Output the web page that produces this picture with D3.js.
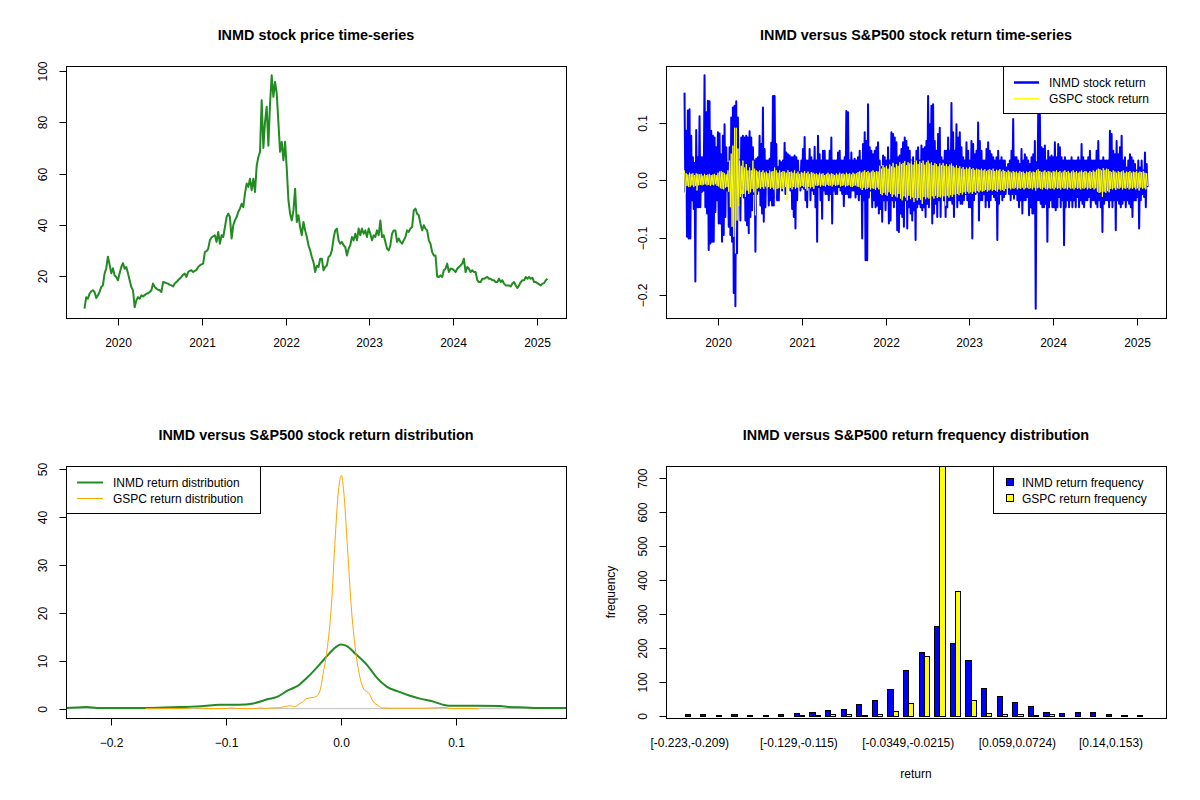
<!DOCTYPE html>
<html><head><meta charset="utf-8">
<script src="https://cdn.jsdelivr.net/npm/d3@7"></script>
<style>body{margin:0;background:#fff}svg text{font-family:"Liberation Sans",Arial,Helvetica,sans-serif;fill:#000}</style>
</head><body><svg id="c" width="1200" height="800"></svg>
<script>
// ---------------- DATA ----------------
const yearTicks = [2020, 2021, 2022, 2023, 2024, 2025];
const seriesStart = "2019-08-08", seriesEnd = "2025-02-17";

// INMD closing price, roughly weekly
const inmdPrice = [
7.2,11.7,11.1,13.0,14.0,14.4,13.7,11.4,12.4,13.7,
15.7,16.3,20.9,23.0,27.5,24.5,21.0,23.0,20.2,19.6,
18.3,21.0,23.5,25.0,22.8,23.5,21.0,18.3,15.7,14.4,
7.8,10.4,11.7,11.1,12.4,12.0,12.5,13.0,13.2,13.7,
14.4,17.0,15.7,15.0,14.6,14.4,13.7,17.6,17.4,17.2,
17.0,16.5,16.3,15.9,17.0,17.6,18.3,19.0,19.6,20.5,
20.9,19.6,21.5,22.0,22.2,21.5,22.0,22.4,23.5,24.1,
24.5,24.8,29.3,29.7,30.6,33.9,35.0,35.5,35.9,33.3,
37.2,32.6,35.9,35.2,39.1,43.0,44.3,43.0,34.6,39.8,
41.7,43.0,45.0,46.3,48.2,46.9,52.2,56.1,54.8,58.0,
53.5,58.0,52.8,63.0,66.5,68.5,88.7,70.0,80.2,86.1,
70.9,87.4,98.4,90.0,95.8,91.3,80.0,68.5,72.4,65.2,
72.4,62.0,49.6,44.3,41.7,45.6,54.1,41.1,43.7,39.1,
35.9,41.1,37.8,35.2,32.0,30.0,27.4,25.4,21.5,
24.0,23.5,26.7,26.7,22.2,23.5,24.1,27.4,28.0,30.0,
34.6,37.8,38.5,33.9,32.6,33.3,32.0,31.3,28.0,30.6,
32.0,35.2,33.9,36.5,33.9,38.5,35.9,38.5,36.5,37.8,
35.2,38.5,36.5,33.9,35.9,35.2,37.8,35.9,41.7,35.2,
35.9,33.3,30.6,30.0,32.0,36.5,37.8,37.8,33.3,34.6,
33.3,32.6,33.9,35.2,37.8,37.2,38.5,39.1,45.6,46.3,
44.3,43.7,40.4,37.8,39.8,38.5,37.8,33.9,32.6,29.3,
28.0,28.0,19.8,19.6,20.2,19.6,22.2,22.8,24.8,21.5,
22.8,22.8,22.2,21.5,22.8,23.5,24.1,24.8,26.7,21.5,
23.5,22.8,21.5,22.2,21.5,21.5,18.3,17.6,17.6,18.9,
18.9,19.2,19.6,18.9,18.9,18.3,18.3,17.6,17.6,18.9,
17.6,18.3,17.0,16.3,16.3,16.3,15.9,17.0,17.6,16.3,
15.3,16.3,17.6,18.3,18.3,19.6,18.9,19.6,18.9,19.3,
17.6,17.6,17.2,16.7,16.3,17.0,17.2,18.3,18.9
];

// INMD returns (read twice per week: high, low)
const inmdReturn = [
.152,-.020,.086,-.098,.121,-.101,.123,-.101,.077,-.035,
.040,-.050,.030,-.176,.087,-.047,.040,-.047,.111,-.047,
.040,-.020,.040,-.018,.182,-.047,.118,-.058,.138,-.121,
.137,-.110,.086,-.107,.077,-.107,.074,-.055,.057,-.035,
.083,-.075,.081,-.075,.045,-.107,.077,-.095,.097,-.064,
.057,-.018,.030,-.081,.057,-.095,.109,-.107,.126,-.196,
.129,-.219,.137,-.127,.109,-.040,.034,-.070,.074,-.015,
.077,-.030,.074,-.070,.077,-.078,.074,-.092,.085,-.064,
.074,-.052,.057,-.024,.034,-.124,.037,-.024,.040,-.018,
.077,-.044,.063,-.058,.126,-.072,.054,-.047,.034,-.012,
.034,-.044,.037,-.035,.065,-.044,.146,-.044,.146,-.030,
.063,-.035,.023,-.035,.034,-.006,.031,-.018,.034,-.010,
.065,-.024,.048,-.010,.045,-.006,.043,-.018,.040,-.050,
.040,-.064,.043,-.084,.040,-.035,.034,-.012,.014,-.018,
.034,-.012,.054,-.015,.075,-.035,.034,-.047,.034,-.012,
.054,-.035,.040,-.018,.034,-.024,.058,-.047,.034,-.107,
.077,-.012,.045,-.035,.034,-.067,.051,-.018,.051,-.024,
.034,-.024,.034,-.035,.051,-.024,.074,-.075,.034,-.018,
.034,-.024,.034,-.024,.048,-.012,.051,-.018,.034,-.024,
.034,-.045,.040,-.024,.120,-.024,.118,-.030,.034,-.030,
.048,-.018,.034,-.018,.037,-.030,.034,-.024,.040,-.035,
.051,-.024,.034,-.101,.063,-.035,.083,-.139,.068,-.139,
.132,-.030,.057,-.018,.051,-.047,.045,-.035,.051,-.047,
.057,-.044,.066,-.058,.034,-.050,.023,-.072,.043,-.035,
.040,-.052,.034,-.035,.057,-.075,.034,-.070,.083,-.035,
.080,-.047,.074,-.035,.066,-.087,.040,-.090,.043,-.058,
.054,-.064,.066,-.081,.074,-.035,.068,-.084,.057,-.047,
.051,-.058,.034,-.070,.040,-.052,.031,-.104,
.051,-.047,.057,-.041,.034,-.047,.060,-.052,.054,-.047,
.057,-.064,.068,-.041,.146,-.047,.097,-.032,.129,-.075,
.132,-.058,.068,-.041,.051,-.064,.080,-.035,.091,-.064,
.040,-.024,.034,-.035,.051,-.064,.051,-.047,.074,-.035,
.051,-.035,.134,-.041,.083,-.064,.051,-.024,.097,-.047,
.074,-.035,.083,-.041,.057,-.041,.040,-.035,.034,-.024,
.066,-.035,.051,-.047,.034,-.047,.068,-.101,.063,-.035,
.045,-.024,.051,-.021,.100,-.070,.068,-.035,.051,-.035,
.034,-.024,.034,-.047,.054,-.035,.066,-.047,.051,-.035,
.045,-.024,.040,-.029,.034,-.035,.040,-.104,.051,-.041,
.034,-.024,.040,-.035,.034,-.029,.034,-.024,.022,-.012,
.028,-.024,.034,-.035,.051,-.024,.106,-.032,.040,-.024,
.040,-.035,.034,-.047,.028,-.035,.054,-.058,.034,-.035,
.045,-.035,.040,-.029,.034,-.061,.028,-.047,.040,-.058,
.045,-.058,.068,-.223,.031,-.035,.114,-.035,.114,-.041,
.057,-.047,.054,-.047,.060,-.041,.034,-.107,.051,-.047,
.040,-.035,.043,-.047,.040,-.047,.066,-.052,.040,-.047,
.063,-.029,.057,-.047,.040,-.035,.034,-.113,.040,-.047,
.034,-.035,.034,-.047,.034,-.035,.040,-.047,.034,-.035,
.034,-.047,.034,-.029,.040,-.047,.034,-.035,.063,-.041,
.040,-.047,.034,-.035,.034,-.035,.040,-.029,.051,-.047,
.034,-.035,.034,-.035,.034,-.041,.051,-.047,.068,-.035,
.034,-.047,.034,-.090,.040,-.041,.034,-.035,.034,-.035,
.034,-.047,.086,-.035,.080,-.047,.051,-.035,.045,-.087,
.068,-.035,.045,-.041,.057,-.047,.077,-.041,.034,-.035,
.040,-.047,.022,-.035,.034,-.041,.045,-.047,.040,-.064,
.034,-.035,.028,-.035,.017,-.029,.034,-.084,.022,-.035,
.034,-.024,.017,-.029,.048,-.047,.028,-.012
];

// GSPC returns (same sampling)
const gspcReturn = [
.017,-.024,.012,-.010,.010,-.012,.013,-.011,.011,-.009,
.012,-.012,.009,-.010,.012,-.018,.011,-.009,.010,-.008,
.011,-.009,.008,-.008,.011,-.007,.009,-.009,.010,-.008,
.011,-.010,.009,-.008,.010,-.009,.011,-.007,.009,-.010,
.013,-.011,.015,-.014,.016,-.015,.014,-.016,.012,-.013,
.010,-.012,.017,-.020,.034,-.047,.046,-.081,.060,-.098,
.091,-.127,.091,-.070,.055,-.045,.034,-.029,.025,-.024,
.034,-.024,.022,-.029,.028,-.018,.017,-.024,.022,-.021,
.017,-.015,.034,-.021,.020,-.061,.017,-.015,.015,-.013,
.017,-.015,.014,-.012,.017,-.015,.013,-.011,.015,-.014,
.012,-.012,.017,-.015,.015,-.013,.016,-.016,.022,-.035,
.017,-.015,.013,-.014,.017,-.012,.014,-.015,.016,-.013,
.015,-.012,.013,-.035,.017,-.014,.014,-.013,.015,-.016,
.013,-.012,.017,-.015,.012,-.013,.015,-.014,.011,-.012,
.014,-.010,.013,-.012,.016,-.015,.012,-.018,.015,-.012,
.011,-.014,.014,-.012,.013,-.015,.011,-.009,.012,-.010,
.010,-.009,.013,-.011,.011,-.009,.012,-.010,.009,-.011,
.011,-.008,.013,-.010,.010,-.009,.012,-.011,.011,-.008,
.009,-.010,.012,-.009,.010,-.008,.013,-.011,.011,-.010,
.012,-.009,.010,-.012,.013,-.010,.011,-.009,.012,-.011,
.010,-.012,.013,-.010,.011,-.009,.012,-.011,.014,-.012,
.016,-.014,.013,-.017,.015,-.013,.017,-.016,.014,-.015,
.016,-.013,.013,-.016,.015,-.014,.017,-.015,.014,-.017,
.016,-.013,.015,-.016,.025,-.024,.020,-.026,.026,-.022,
.022,-.025,.025,-.027,.020,-.021,.027,-.024,.024,-.029,
.030,-.025,.022,-.028,.028,-.030,.025,-.024,.031,-.032,
.028,-.035,.030,-.028,.033,-.030,.026,-.035,.031,-.027,
.029,-.033,.034,-.030,.027,-.038,.032,-.031,
.034,-.035,.028,-.031,.033,-.034,.030,-.041,.034,-.029,
.027,-.033,.031,-.030,.034,-.032,.029,-.035,.031,-.028,
.026,-.032,.030,-.027,.028,-.031,.024,-.029,.029,-.030,
.026,-.026,.030,-.028,.025,-.044,.028,-.027,.024,-.030,
.027,-.026,.029,-.029,.025,-.025,.022,-.027,.026,-.024,
.021,-.026,.024,-.022,.020,-.025,.023,-.021,.019,-.024,
.022,-.020,.020,-.023,.023,-.021,.019,-.024,.021,-.020,
.018,-.022,.020,-.019,.019,-.021,.018,-.018,.020,-.020,
.017,-.019,.019,-.017,.016,-.020,.018,-.018,.019,-.016,
.017,-.019,.020,-.017,.016,-.018,.018,-.020,.017,-.016,
.019,-.018,.015,-.017,.018,-.019,.016,-.015,.014,-.016,
.017,-.014,.015,-.016,.013,-.014,.016,-.015,.014,-.013,
.015,-.016,.013,-.014,.016,-.015,.014,-.013,.015,-.016,
.012,-.014,.015,-.013,.014,-.015,.016,-.014,.013,-.016,
.015,-.013,.014,-.018,.017,-.014,.019,-.013,.016,-.015,
.014,-.016,.015,-.013,.017,-.015,.014,-.016,.016,-.014,
.015,-.015,.013,-.014,.016,-.016,.015,-.013,.017,-.015,
.014,-.014,.016,-.016,.013,-.013,.015,-.015,.017,-.014,
.014,-.016,.016,-.013,.013,-.015,.015,-.014,.017,-.016,
.014,-.013,.016,-.015,.013,-.014,.015,-.016,.017,-.014,
.014,-.015,.016,-.013,.015,-.016,.013,-.014,.016,-.015,
.014,-.013,.017,-.016,.015,-.014,.018,-.020,.020,-.022,
.019,-.021,.017,-.029,.021,-.020,.018,-.022,.020,-.019,
.019,-.021,.016,-.015,.014,-.016,.017,-.014,.015,-.017,
.013,-.014,.016,-.015,.014,-.013,.015,-.016,.017,-.014,
.013,-.015,.015,-.013,.014,-.016,.016,-.014,.013,-.015,
.015,-.013,.014,-.016,.016,-.014,.013,-.018,.015,-.013,
.014,-.015,.016,-.014,.013,-.016,.012,-.010
];

// Kernel density estimates
const densXRange = [-0.223, 0.180];
const inmdDensX = [-0.25,-0.2385,-0.221,-0.212,-0.20,-0.17,-0.146,-0.13,-0.119,-0.106,-0.089,-0.076,-0.063,-0.056,-0.046,-0.036,-0.030,-0.023,-0.017,-0.010,-0.005,0.0,0.005,0.013,0.023,0.031,0.040,0.050,0.059,0.069,0.079,0.088,0.094,0.119,0.139,0.146,0.155,0.168,0.1953,0.21];
const inmdDensY = [0.15,0.15,0.35,0.15,0.15,0.15,0.3,0.4,0.55,0.8,0.8,1.1,2.0,2.4,3.8,5.0,6.3,8.0,9.6,11.5,12.7,13.4,13.1,11.4,9.1,6.6,4.6,3.6,2.8,2.1,1.6,0.9,0.6,0.6,0.55,0.35,0.3,0.15,0.15,0.15];
const gspcDensX = [-0.17,-0.135,-0.128,-0.12,-0.10,-0.095,-0.09,-0.075,-0.07,-0.065,-0.06,-0.053,-0.048,-0.043,-0.040,-0.036,-0.033,-0.030,-0.025,-0.021,-0.018,-0.015,-0.012,-0.008,-0.005,-0.002,0.0007,0.0026,0.006,0.009,0.013,0.017,0.020,0.025,0.028,0.033,0.036,0.045,0.056,0.07,0.085,0.09,0.095,0.12];
const gspcDensY = [0,0.05,0.2,0.05,0.02,0.15,0.02,0.02,0.15,0.05,0.15,0.2,0.5,0.6,0.4,1.0,1.4,2.1,2.3,2.6,3.8,7.7,12,21.9,34.7,45.4,48.7,45.4,33.3,21.9,12,6.3,4.1,3.1,1.6,0.6,0.15,0.1,0.1,0.1,0.2,0.25,0.05,0];
const densXTicks = [-0.2, -0.1, 0.0, 0.1];
const densYTicks = [0, 10, 20, 30, 40, 50];

// Frequency table
const binLabels = ["[-0.223,-0.209)","[-0.209,-0.196)","[-0.196,-0.182)","[-0.182,-0.169)","[-0.169,-0.155)","[-0.155,-0.142)","[-0.142,-0.129)","[-0.129,-0.115)","[-0.115,-0.102)","[-0.102,-0.0884)","[-0.0884,-0.075)","[-0.075,-0.0616)","[-0.0616,-0.0483)","[-0.0483,-0.0349)","[-0.0349,-0.0215)","[-0.0215,-0.00812)","[-0.00812,0.00527)","[0.00527,0.0187)","[0.0187,0.0321)","[0.0321,0.0455)","[0.0455,0.059)","[0.059,0.0724)","[0.0724,0.0858)","[0.0858,0.0992)","[0.0992,0.113)","[0.113,0.126)","[0.126,0.14)","[0.14,0.153)","[0.153,0.167)","[0.167,0.18]"];
const shownLabels = [0, 7, 14, 21, 27];
const inmdFreq = [4,4,1,4,1,1,4,7,10,16,19,33,45,77,133,188,265,215,165,82,57,41,27,10,7,10,10,4,1,1];
const gspcFreq = [0,0,0,0,0,0,0,2,1,3,4,1,4,12,38,176,736,368,47,7,4,4,1,3,0,0,0,0,0,0];
const freqTicks = [0,100,200,300,400,500,600,700];

const priceTicks = [20, 40, 60, 80, 100];
const retTicks = [-0.2, -0.1, 0.0, 0.1];

// ---------------- DRAWING ----------------
const W = 500, H = 252;
const svg = d3.select("#c");
svg.append("rect").attr("width",1200).attr("height",800).attr("fill","#fff");
let clipId = 0;

function panel(left, top, title) {
  svg.append("text").attr("x", left + W/2).attr("y", top - 26)
    .attr("text-anchor","middle").attr("font-weight","bold").attr("font-size",14.4).text(title);
  const g = svg.append("g").attr("transform", `translate(${left},${top})`);
  const id = "clip" + (clipId++);
  g.append("clipPath").attr("id", id).append("rect").attr("x",0).attr("y",0).attr("width",W+1).attr("height",H+1);
  const plot = g.append("g").attr("clip-path", `url(#${id})`);
  return {g, plot};
}
function box(g) {
  g.append("rect").attr("x",0.5).attr("y",0.5).attr("width",W).attr("height",H)
    .attr("fill","none").attr("stroke","#000").attr("stroke-width",1);
}
function axisBottom(g, sc, ticks, fmt) {
  const a = g.append("g");
  const xs = ticks.map(t => Math.round(sc(t)) + 0.5);
  a.append("line").attr("x1",xs[0]).attr("x2",xs[xs.length-1]).attr("y1",H+0.5).attr("y2",H+0.5).attr("stroke","#000");
  ticks.forEach((t,i) => {
    a.append("line").attr("x1",xs[i]).attr("x2",xs[i]).attr("y1",H+0.5).attr("y2",H+7.5).attr("stroke","#000");
    a.append("text").attr("x",xs[i]).attr("y",H+29).attr("text-anchor","middle").attr("font-size",12).text(fmt(t));
  });
}
function axisLeft(g, sc, ticks, fmt) {
  const a = g.append("g");
  const ys = ticks.map(t => Math.round(sc(t)) + 0.5);
  a.append("line").attr("x1",0.5).attr("x2",0.5).attr("y1",ys[0]).attr("y2",ys[ys.length-1]).attr("stroke","#000");
  ticks.forEach((t,i) => {
    a.append("line").attr("x1",0.5).attr("x2",-6.5).attr("y1",ys[i]).attr("y2",ys[i]).attr("stroke","#000");
    a.append("text").attr("transform",`translate(-19,${ys[i]}) rotate(-90)`).attr("text-anchor","middle").attr("font-size",12).text(fmt(t));
  });
}
function padded(lo, hi) { const p = (hi - lo) * 0.04; return [lo - p, hi + p]; }

const t0 = new Date(seriesStart + "T00:00:00").getTime(), t1 = new Date(seriesEnd + "T00:00:00").getTime();
const datesFor = n => d3.range(n).map(i => new Date(t0 + i * (t1 - t0) / (n - 1)));
const tPad = (t1 - t0) * 0.04;
const xTime = d3.scaleTime().domain([new Date(t0 - tPad), new Date(t1 + tPad)]).range([0, W]);
const yearDates = yearTicks.map(y => new Date(y, 0, 1));

// Panel 1: price
{
  const {g, plot} = panel(66, 66, "INMD stock price time-series");
  const dates = datesFor(inmdPrice.length);
  const y = d3.scaleLinear().domain(padded(d3.min(inmdPrice), d3.max(inmdPrice))).range([H, 0]);
  plot.append("path").datum(inmdPrice)
    .attr("d", d3.line().x((d,i) => xTime(dates[i])).y(d => y(d)))
    .attr("fill","none").attr("stroke","#228B22").attr("stroke-width",2).attr("stroke-linejoin","round");
  box(g);
  axisBottom(g, xTime, yearDates, d => d.getFullYear());
  axisLeft(g, y, priceTicks, d => d);
}

// Panel 2: returns
{
  const {g, plot} = panel(666, 66, "INMD versus S&P500 stock return time-series");
  const dates = datesFor(inmdReturn.length);
  const all = inmdReturn.concat(gspcReturn);
  const y = d3.scaleLinear().domain(padded(d3.min(all), d3.max(all))).range([H, 0]);
  const line = d3.line().x((d,i) => xTime(dates[i])).y(d => y(d));
  plot.append("path").datum(inmdReturn).attr("d", line)
    .attr("fill","none").attr("stroke","#0000FF").attr("stroke-width",2).attr("stroke-linejoin","round");
  plot.append("path").datum(gspcReturn).attr("d", line)
    .attr("fill","none").attr("stroke","#FFFF00").attr("stroke-width",1);
  box(g);
  axisBottom(g, xTime, yearDates, d => d.getFullYear());
  axisLeft(g, y, retTicks, d => d3.format(".1f")(d));
  const lg = g.append("g").attr("transform","translate(337,0)");
  lg.append("rect").attr("x",0.5).attr("y",0.5).attr("width",163).attr("height",47).attr("fill","#fff").attr("stroke","#000");
  lg.append("line").attr("x1",11).attr("x2",36).attr("y1",16.5).attr("y2",16.5).attr("stroke","#0000FF").attr("stroke-width",2.5);
  lg.append("line").attr("x1",11).attr("x2",36).attr("y1",32.5).attr("y2",32.5).attr("stroke","#FFFF00").attr("stroke-width",1);
  lg.append("text").attr("x",46).attr("y",16.5).attr("dy","0.35em").attr("font-size",12).text("INMD stock return");
  lg.append("text").attr("x",46).attr("y",32.5).attr("dy","0.35em").attr("font-size",12).text("GSPC stock return");
}

// Panel 3: density
{
  const {g, plot} = panel(66, 466, "INMD versus S&P500 stock return distribution");
  const x = d3.scaleLinear().domain(padded(densXRange[0], densXRange[1])).range([0, W]);
  const y = d3.scaleLinear().domain(padded(0, d3.max(inmdDensY.concat(gspcDensY)))).range([H, 0]);
  plot.append("line").attr("x1",0).attr("x2",W).attr("y1",y(0)).attr("y2",y(0)).attr("stroke","#BEBEBE").attr("stroke-width",1);
  plot.append("path").datum(inmdDensX.map((v,i) => [v, inmdDensY[i]]))
    .attr("d", d3.line().x(d => x(d[0])).y(d => y(d[1])).curve(d3.curveMonotoneX))
    .attr("fill","none").attr("stroke","#228B22").attr("stroke-width",2);
  plot.append("path").datum(gspcDensX.map((v,i) => [v, gspcDensY[i]]))
    .attr("d", d3.line().x(d => x(d[0])).y(d => y(d[1])).curve(d3.curveMonotoneX))
    .attr("fill","none").attr("stroke","#FFA500").attr("stroke-width",1);
  box(g);
  axisBottom(g, x, densXTicks, d => d3.format(".1f")(d));
  axisLeft(g, y, densYTicks, d => d);
  const lg = g.append("g");
  lg.append("rect").attr("x",0.5).attr("y",0.5).attr("width",194).attr("height",47).attr("fill","#fff").attr("stroke","#000");
  lg.append("line").attr("x1",11).attr("x2",37).attr("y1",16.5).attr("y2",16.5).attr("stroke","#228B22").attr("stroke-width",2);
  lg.append("line").attr("x1",11).attr("x2",37).attr("y1",32.5).attr("y2",32.5).attr("stroke","#FFA500").attr("stroke-width",1);
  lg.append("text").attr("x",47).attr("y",16.5).attr("dy","0.35em").attr("font-size",12).text("INMD return distribution");
  lg.append("text").attr("x",47).attr("y",32.5).attr("dy","0.35em").attr("font-size",12).text("GSPC return distribution");
}

// Panel 4: frequency bars
{
  const {g, plot} = panel(666, 466, "INMD versus S&P500 return frequency distribution");
  const nG = binLabels.length;
  const x = d3.scaleLinear().domain(padded(1, 3 * nG)).range([0, W]);
  const maxF = d3.max(inmdFreq.concat(gspcFreq));
  const y = d3.scaleLinear().domain([-0.01 * maxF, maxF]).range([H, 0]);
  const bars = [];
  binLabels.forEach((lab, i) => {
    bars.push({x0: 1 + 3*i, x1: 2 + 3*i, v: inmdFreq[i], c: "#0000FF"});
    bars.push({x0: 2 + 3*i, x1: 3 + 3*i, v: gspcFreq[i], c: "#FFFF00"});
  });
  plot.selectAll("rect.bar").data(bars).join("rect").attr("class","bar")
    .attr("x", d => Math.round(x(d.x0)) + 0.5)
    .attr("width", d => Math.round(x(d.x1)) - Math.round(x(d.x0)))
    .attr("y", d => Math.round(y(d.v)) + 0.5)
    .attr("height", d => Math.round(y(0)) - Math.round(y(d.v)))
    .attr("fill", d => d.c).attr("stroke","#000").attr("stroke-width",1);
  box(g);
  axisLeft(g, y, freqTicks, d => d);
  shownLabels.forEach(i => {
    g.append("text").attr("x", x(2 + 3*i)).attr("y", H + 29).attr("text-anchor","middle").attr("font-size",12).text(binLabels[i]);
  });
  g.append("text").attr("x", W/2).attr("y", H + 60).attr("text-anchor","middle").attr("font-size",12).text("return");
  g.append("text").attr("transform", `translate(-51,${H/2}) rotate(-90)`).attr("text-anchor","middle").attr("font-size",12).text("frequency");
  const lg = g.append("g").attr("transform","translate(327,0)");
  lg.append("rect").attr("x",0.5).attr("y",0.5).attr("width",173).attr("height",47).attr("fill","#fff").attr("stroke","#000");
  lg.append("rect").attr("x",13.5).attr("y",12.5).attr("width",7).attr("height",7).attr("fill","#0000FF").attr("stroke","#000");
  lg.append("rect").attr("x",13.5).attr("y",28.5).attr("width",7).attr("height",7).attr("fill","#FFFF00").attr("stroke","#000");
  lg.append("text").attr("x",29).attr("y",16.5).attr("dy","0.35em").attr("font-size",12).text("INMD return frequency");
  lg.append("text").attr("x",29).attr("y",32.5).attr("dy","0.35em").attr("font-size",12).text("GSPC return frequency");
}
</script></body></html>
